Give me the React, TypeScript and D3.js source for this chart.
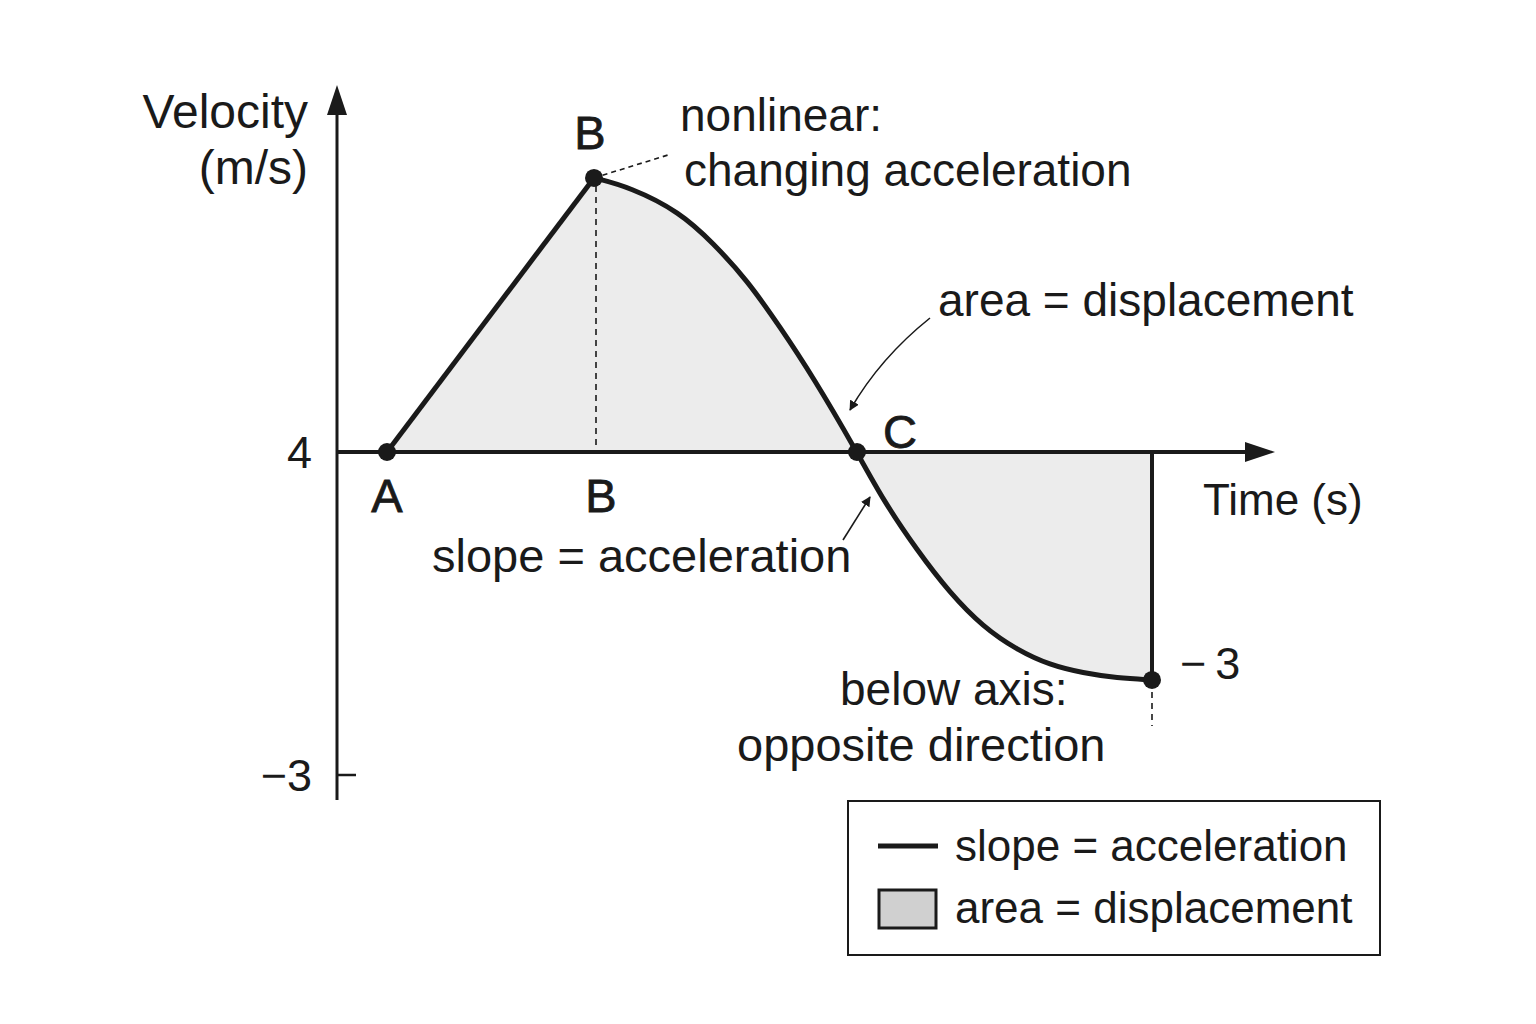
import React from "react";
import * as d3 from "d3";

// velocity-time curve (time in s, velocity in m/s)
const riseTime = [0.5, 2.57];
const riseVel = [4, 9.94];
const fallTime = [2.57, 2.93, 3.43, 3.76, 4.1, 4.43, 4.76, 5.2, 5.46, 5.8, 6.13, 6.46, 6.8, 7.13, 7.46, 7.8, 8.15];
const fallVel = [9.94, 9.74, 9.2, 8.53, 7.73, 6.71, 5.63, 4.0, 2.96, 1.87, 0.94, 0.21, -0.29, -0.62, -0.79, -0.9, -0.94];
const yTicks = [4, -3];
const yTickLabels = ["4", "\u22123"];
const keyPoints = ["A", "B", "C", "end"];

const W = 1536;
const H = 1024;
const FONT = "'Liberation Sans', Arial, Helvetica, sans-serif";
const INK = "#1a1a1a";

const App = () => {
  const x = d3.scaleLinear().domain([0, 10]).range([337, 1337]);
  const y = d3.scaleLinear().domain([-3, 4]).range([775, 452]);
  const base = 4;

  const rise = riseTime.map((t, i) => [t, riseVel[i]] as [number, number]);
  const fall = fallTime.map((t, i) => [t, fallVel[i]] as [number, number]);

  // basis smooths out reading noise in the hand-read points
  const smooth = d3.curveBasis;

  const riseLine = d3
    .line<[number, number]>()
    .x((d) => x(d[0]))
    .y((d) => y(d[1]));
  const fallLine = d3
    .line<[number, number]>()
    .x((d) => x(d[0]))
    .y((d) => y(d[1]))
    .curve(smooth);

  // area between curve and the time axis: rise part linear, fall part smooth
  const areaRise = d3
    .area<[number, number]>()
    .x((d) => x(d[0]))
    .y0(y(base))
    .y1((d) => y(d[1]));
  const areaFall = d3
    .area<[number, number]>()
    .x((d) => x(d[0]))
    .y0(y(base))
    .y1((d) => y(d[1]))
    .curve(smooth);

  const tA = rise[0];
  const tB = rise[1];
  const tC = fall[7];
  const tEnd = fall[fall.length - 1];
  const dots = [tA, tB, tC, tEnd];

  const axisX0 = x(0);
  const axisY = y(base);
  const xArrowTip = 1275;
  const yArrowTip = 85;
  const yAxisBottom = 800;

  return (
    <svg
      width={W}
      height={H}
      style={{ position: "absolute", left: 0, top: 0, background: "#fff" }}
      fontFamily={FONT}
    >
      <defs>
        <marker id="smallHead" viewBox="0 0 10 10" refX="9" refY="5" markerWidth="10" markerHeight="10" orient="auto" markerUnits="userSpaceOnUse">
          <path d="M0,0 L10,5 L0,10 z" fill={INK} />
        </marker>
      </defs>

      {/* shaded displacement areas */}
      <path d={areaRise(rise) || ""} fill="#ececec" />
      <path d={areaFall(fall) || ""} fill="#ececec" />

      {/* dashed guide under B */}
      <line x1={x(tB[0]) + 2} x2={x(tB[0]) + 2} y1={y(tB[1]) + 8} y2={axisY} stroke={INK} strokeWidth={1.6} strokeDasharray="6,5" />
      {/* dashed leader from B to note */}
      <line x1={x(tB[0])} y1={y(tB[1])} x2={668} y2={155} stroke={INK} strokeWidth={1.6} strokeDasharray="5,4" />
      {/* dashed tail below the end point */}
      <line x1={x(tEnd[0])} x2={x(tEnd[0])} y1={y(tEnd[1]) + 12} y2={y(tEnd[1]) + 46} stroke={INK} strokeWidth={1.6} strokeDasharray="6,5" />

      {/* axes */}
      <line x1={axisX0} x2={axisX0} y1={yAxisBottom} y2={yArrowTip + 26} stroke={INK} strokeWidth={3} />
      <path d={`M${axisX0},${yArrowTip} L${axisX0 - 10},${yArrowTip + 30} L${axisX0 + 10},${yArrowTip + 30} Z`} fill={INK} />
      <line x1={axisX0} x2={xArrowTip - 26} y1={axisY} y2={axisY} stroke={INK} strokeWidth={4} />
      <path d={`M${xArrowTip},${axisY} L${xArrowTip - 30},${axisY - 10} L${xArrowTip - 30},${axisY + 10} Z`} fill={INK} />
      <line x1={axisX0} x2={axisX0 + 19} y1={y(-3)} y2={y(-3)} stroke={INK} strokeWidth={2.5} />

      {/* y tick labels */}
      {yTicks.map((v, i) => (
        <text key={v} x={axisX0 - 25} y={y(v)} dy="0.36em" textAnchor="end" fontSize={45} fill={INK}>
          {yTickLabels[i]}
        </text>
      ))}

      {/* vertical drop at the end */}
      <line x1={x(tEnd[0])} x2={x(tEnd[0])} y1={axisY} y2={y(tEnd[1])} stroke={INK} strokeWidth={4} />

      {/* curve */}
      <path d={riseLine(rise) || ""} fill="none" stroke={INK} strokeWidth={5} strokeLinejoin="round" />
      <path d={fallLine(fall) || ""} fill="none" stroke={INK} strokeWidth={5} strokeLinejoin="round" strokeLinecap="round" />

      {dots.map((d, i) => (
        <circle key={keyPoints[i]} cx={x(d[0])} cy={y(d[1])} r={9} fill={INK} />
      ))}

      {/* point labels */}
      <g fontSize={47} fill={INK} stroke={INK} strokeWidth={0.8} textAnchor="middle">
        <text x={x(tB[0]) - 4} y={149}>B</text>
        <text x={x(tA[0])} y={512}>A</text>
        <text x={x(tB[0]) + 7} y={512}>B</text>
        <text x={x(tC[0]) + 43} y={448}>C</text>
      </g>
      <text x={x(tEnd[0]) + 28} y={679} fontSize={45} fill={INK}>{"\u2212\u20093"}</text>

      {/* axis titles */}
      <text x={308} y={128} textAnchor="end" fontSize={48} fill={INK}>Velocity</text>
      <text x={308} y={184} textAnchor="end" fontSize={48} fill={INK}>(m/s)</text>
      <text x={1203} y={515} fontSize={44} fill={INK}>Time (s)</text>

      {/* annotations */}
      <g fontSize={46} fill={INK}>
        <text x={680} y={131}>nonlinear:</text>
        <text x={684} y={186}>changing acceleration</text>
        <text x={938} y={316}>area = displacement</text>
        <text x={432} y={572} fontSize={47}>slope = acceleration</text>
        <text x={840} y={705}>below axis:</text>
        <text x={737} y={761} fontSize={47}>opposite direction</text>
      </g>

      <path d="M930,318 Q880,358 850,410" fill="none" stroke={INK} strokeWidth={1.6} markerEnd="url(#smallHead)" />
      <path d="M843,540 L870,497" fill="none" stroke={INK} strokeWidth={1.6} markerEnd="url(#smallHead)" />

      {/* legend */}
      <g transform="translate(848,801)">
        <rect x={0} y={0} width={532} height={154} fill="#fff" stroke={INK} strokeWidth={2} />
        <line x1={30} x2={90} y1={45} y2={45} stroke={INK} strokeWidth={5} />
        <text x={107} y={60} fontSize={44} fill={INK}>slope = acceleration</text>
        <rect x={31} y={89} width={57} height={38} fill="#d0d0d0" stroke={INK} strokeWidth={3} />
        <text x={107} y={122} fontSize={44} fill={INK}>area = displacement</text>
      </g>
    </svg>
  );
};

export default App;
